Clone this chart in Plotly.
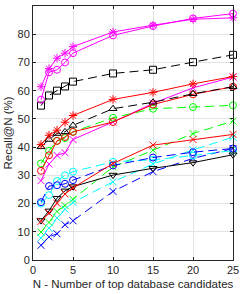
import plotly.graph_objects as go

N = [1, 2, 3, 4, 5, 10, 15, 20, 25]

magenta_star = [61.4, 67.8, 71.5, 73.3, 75.6, 80.8, 83.2, 85.3, 85.8]
magenta_circle = [56.8, 66.5, 67.4, 70.0, 73.3, 79.6, 82.9, 85.6, 87.3]
black_square = [54.7, 58.3, 60.0, 61.5, 63.2, 66.1, 67.4, 70.1, 72.7]
red_star = [40.9, 44.2, 46.0, 48.8, 51.2, 56.9, 59.4, 62.4, 65.0]
black_tri_up = [40.1, 42.7, 44.8, 45.4, 47.7, 53.6, 55.9, 58.9, 61.4]
red_circle = [31.6, 37.1, 42.2, 43.6, 45.4, 48.9, 55.1, 58.7, 61.4]
green_circle = [34.2, 38.7, 42.2, 43.2, 45.4, 50.4, 53.6, 54.2, 54.8]
magenta_x = [28.1, 34.0, 37.1, 38.0, 42.7, 48.9, 55.5, 61.0, 64.8]
red_x = [13.7, 16.6, 20.1, 23.4, 25.6, 34.2, 40.7, 42.7, 44.5]
black_tri_down = [14.0, 17.4, 21.9, 24.5, 26.0, 30.1, 32.5, 34.5, 37.3]
green_x = [9.9, 13.3, 17.2, 19.3, 21.5, 33.0, 38.9, 44.8, 49.2]
cyan_x = [7.8, 11.3, 14.9, 18.0, 20.4, 27.7, 34.0, 39.0, 43.5]
blue_x = [5.2, 8.2, 9.3, 12.5, 13.9, 24.3, 31.3, 36.0, 39.5]
cyan_circle = [20.0, 23.0, 28.0, 30.0, 31.3, 34.8, 35.5, 37.0, 38.8]
blue_circle = [20.5, 26.2, 26.5, 27.0, 28.3, 33.5, 36.3, 38.2, 39.5]

series = [
    (green_x, "#00FF00", "x-thin-open", "dash"),
    (cyan_x, "#00FFFF", "x-thin-open", "dash"),
    (blue_x, "#0000FF", "x-thin-open", "dash"),
    (cyan_circle, "#00FFFF", "circle-open", "dash"),
    (blue_circle, "#0000FF", "circle-open", "dash"),
    (black_tri_down, "#000000", "triangle-down-open", "solid"),
    (red_x, "#FF0000", "x-thin-open", "solid"),
    (magenta_x, "#FF00FF", "x-thin-open", "solid"),
    (green_circle, "#00FF00", "circle-open", "dash"),
    (red_circle, "#FF0000", "circle-open", "solid"),
    (black_tri_up, "#000000", "triangle-up-open", "dash"),
    (red_star, "#FF0000", "asterisk-open", "solid"),
    (black_square, "#000000", "square-open", "dash"),
    (magenta_circle, "#FF00FF", "circle-open", "solid"),
    (magenta_star, "#FF00FF", "asterisk-open", "solid"),
]

fig = go.Figure()
for vals, col, sym, dash in series:
    fig.add_trace(go.Scatter(
        x=N, y=vals, mode="lines+markers",
        line=dict(color=col, width=1, dash="9px,5px" if dash == "dash" else "solid"),
        marker=dict(symbol=sym, size=7, color=col, line=dict(color=col, width=1)),
        cliponaxis=False, showlegend=False,
    ))

axis_common = dict(
    showgrid=True, gridcolor="#E3E3E3", gridwidth=1,
    showline=True, linecolor="#262626", linewidth=1, mirror="allticks",
    ticks="inside", ticklen=3, tickcolor="#262626",
    tickfont=dict(family="Liberation Sans, Arial", size=11, color="#262626"),
    zeroline=False, automargin=False,
)

fig.update_layout(
    width=249, height=294,
    margin=dict(l=33, r=16, t=6, b=34),
    paper_bgcolor="white", plot_bgcolor="white",
    xaxis=dict(range=[0, 25], tickvals=[0, 5, 10, 15, 20, 25],
               title=dict(text="N - Number of top database candidates", standoff=4,
                          font=dict(family="Liberation Sans, Arial", size=11.5, color="#262626")),
               **axis_common),
    yaxis=dict(range=[0, 90], tickvals=list(range(0, 91, 10)),
               title=dict(text="Recall@N (%)", standoff=2,
                          font=dict(family="Liberation Sans, Arial", size=11.5, color="#262626")),
               **axis_common),
)

fig.write_html("out.html", config={"displayModeBar": False},
               post_script="document.body.style.margin='0';document.body.style.overflow='hidden';")
